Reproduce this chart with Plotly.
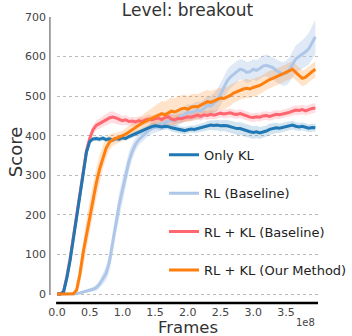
import plotly.graph_objects as go

# x positions in units of 1e8 frames
frames_e8 = [round(i * 0.05, 2) for i in range(80)]

only_kl = [0, 0, 5, 40, 85, 140, 195, 255, 310, 358,
           385, 392, 393, 391, 394, 390, 392, 389, 393, 391,
           395, 393, 398, 402, 406, 408, 412, 416, 420, 423,
           425, 424, 422, 424, 423, 420, 418, 416, 414, 413,
           415, 417, 416, 418, 420, 422, 425, 427, 426, 427,
           425, 426, 425, 423, 420, 418, 418, 415, 412, 410,
           408, 410, 407, 409, 412, 416, 418, 420, 419, 421,
           423, 425, 427, 424, 422, 424, 421, 419, 421, 420]
only_kl_sd = [0, 0, 2, 4, 5, 6, 6, 6, 6, 6, 5, 5, 6, 6, 6, 6, 6, 6, 6, 6,
              6, 6, 6, 7, 7, 7, 8, 8, 8, 8, 8, 8, 8, 8, 8, 9, 9, 9, 9, 9,
              9, 9, 10, 10, 10, 11, 12, 12, 13, 13, 14, 14, 15, 15, 15, 16, 16, 16, 16, 16,
              16, 16, 15, 15, 14, 14, 13, 13, 12, 12, 12, 11, 11, 11, 10, 10, 10, 10, 10, 10]

rl_base = [0, 0, 0, 0, 0, 0, 1, 3, 5, 7,
           10, 12, 16, 25, 38, 52, 80, 130, 180, 225,
           262, 300, 335, 360, 378, 390, 398, 405, 413, 418,
           422, 425, 428, 432, 436, 440, 438, 444, 448, 455,
           460, 458, 462, 465, 463, 470, 477, 475, 482, 490,
           505, 520, 538, 548, 556, 562, 568, 566, 560, 562,
           568, 565, 570, 576, 578, 574, 572, 565, 560, 556,
           558, 566, 580, 594, 600, 605, 612, 620, 635, 650]
rl_base_sd = [0, 0, 0, 0, 0, 0, 1, 2, 3, 4, 5, 6, 8, 10, 14, 18, 24, 28, 30, 30,
              30, 28, 25, 20, 16, 14, 13, 13, 13, 14, 14, 15, 15, 16, 16, 17, 17, 18, 18, 19,
              20, 20, 21, 22, 22, 23, 24, 25, 26, 27, 28, 28, 28, 28, 27, 27, 26, 26, 26, 26,
              26, 26, 27, 27, 28, 28, 28, 29, 29, 30, 31, 32, 33, 34, 35, 36, 38, 40, 42, 44]

rlkl_base = [0, 0, 7, 43, 89, 144, 199, 259, 314, 362,
             393, 415, 426, 430, 436, 440, 445, 447, 445, 441,
             438, 440, 436, 437, 435, 438, 436, 440, 442, 440,
             443, 445, 441, 446, 448, 442, 440, 444, 443, 446,
             448, 447, 450, 452, 449, 453, 451, 454, 452, 455,
             457, 455, 456, 458, 455, 454, 456, 452, 450, 447,
             446, 448, 447, 450, 451, 449, 452, 454, 453, 456,
             457, 459, 462, 465, 464, 466, 463, 466, 469, 470]
rlkl_base_sd = [0, 0, 3, 5, 6, 7, 8, 8, 8, 9, 10, 11, 12, 13, 14, 14, 15, 15, 14, 13,
                12, 12, 11, 11, 11, 11, 11, 11, 11, 11, 11, 11, 11, 11, 11, 11, 11, 11, 11, 11,
                11, 11, 11, 11, 11, 11, 11, 11, 11, 11, 11, 11, 11, 11, 11, 11, 11, 11, 11, 11,
                11, 11, 11, 11, 11, 11, 11, 11, 11, 11, 11, 11, 11, 12, 12, 12, 12, 12, 12, 12]

rlkl_ours = [0, 0, 0, 0, 0, 1, 10, 50, 105, 150,
             195, 240, 280, 315, 345, 368, 383, 390, 393, 396,
             400, 404, 410, 416, 422, 427, 432, 436, 440, 444,
             448, 452, 456, 453, 458, 462, 460, 465, 468, 470,
             467, 472, 474, 473, 478, 482, 486, 484, 488, 492,
             495, 494, 497, 502, 508, 512, 515, 518, 520, 518,
             522, 524, 527, 532, 538, 542, 545, 548, 552, 556,
             560, 563, 568, 560, 552, 545, 548, 556, 562, 568]
rlkl_ours_sd = [0, 0, 0, 0, 0, 2, 10, 25, 35, 40, 40, 40, 38, 35, 30, 25, 20, 16, 14, 13,
                13, 14, 15, 16, 17, 18, 20, 22, 24, 26, 28, 30, 32, 33, 34, 35, 35, 35, 34, 34,
                33, 33, 32, 32, 31, 30, 30, 29, 28, 28, 27, 27, 26, 26, 25, 25, 24, 24, 24, 23,
                23, 23, 22, 22, 22, 22, 21, 21, 21, 21, 21, 21, 20, 20, 20, 20, 20, 20, 20, 20]

series_names = ["Only KL", "RL (Baseline)", "RL + KL (Baseline)", "RL + KL (Our Method)"]
series_means = [only_kl, rl_base, rlkl_base, rlkl_ours]
series_sds = [only_kl_sd, rl_base_sd, rlkl_base_sd, rlkl_ours_sd]
series_colors = ["#1f77b4", "#aec7e8", "#ff6670", "#ff7f0e"]
band_colors = ["rgba(31,119,180,0.2)", "rgba(174,199,232,0.38)",
               "rgba(255,102,112,0.22)", "rgba(255,127,14,0.22)"]
draw_order = [1, 2, 0, 3]

y_ticks = [0, 100, 200, 300, 400, 500, 600, 700]
x_ticks = [0.0, 0.5, 1.0, 1.5, 2.0, 2.5, 3.0, 3.5]
x_tick_labels = ["0.0", "0.5", "1.0", "1.5", "2.0", "2.5", "3.0", "3.5"]

FONT = "DejaVu Sans"
fig = go.Figure()
for i in draw_order:
    m, sd = series_means[i], series_sds[i]
    upper = [a + b for a, b in zip(m, sd)]
    lower = [a - b for a, b in zip(m, sd)]
    fig.add_trace(go.Scatter(x=frames_e8 + frames_e8[::-1], y=upper + lower[::-1],
                             fill="toself", fillcolor=band_colors[i], line=dict(width=0),
                             mode="lines", showlegend=False, hoverinfo="skip",
                             legendgroup=f"g{i}"))
for i in draw_order:
    fig.add_trace(go.Scatter(x=frames_e8, y=series_means[i], mode="lines",
                             name=series_names[i], legendrank=i + 1,
                             line=dict(color=series_colors[i], width=3),
                             legendgroup=f"g{i}"))

fig.update_layout(
    width=352, height=336,
    margin=dict(l=57, r=0, t=17, b=38),
    paper_bgcolor="white", plot_bgcolor="white",
    font=dict(family=FONT, color="#333"),
    title=dict(text="Level: breakout", x=0.5, xref="paper", xanchor="center",
               y=1 - 10 / 336, yref="container", yanchor="middle",
               font=dict(size=17, color="#333", family=FONT)),
    showlegend=True,
    legend=dict(x=0.41, y=0.563, xanchor="left", yanchor="top",
                bgcolor="rgba(0,0,0,0)", font=dict(size=13, color="#222", family=FONT),
                tracegroupgap=18.5),
    xaxis=dict(range=[0, 3.99], showgrid=False, zeroline=False, showline=False,
               tickvals=x_ticks, ticktext=x_tick_labels, ticks="",
               ticklabelstandoff=6,
               tickfont=dict(size=11, color="#444", family=FONT)),
    yaxis=dict(range=[-10, 700], tickvals=y_ticks, showgrid=True, gridcolor="#bbbbbb",
               griddash="dot", gridwidth=1.2, zeroline=False, showline=False, ticks="",
               ticklabelstandoff=10,
               tickfont=dict(size=11, color="#444", family=FONT)),
    shapes=[
        dict(type="line", xref="paper", yref="paper", x0=-8 / 295, x1=-8 / 295,
             y0=3 / 281, y1=1, line=dict(color="#666", width=1.2)),
        dict(type="line", xref="paper", yref="paper", x0=-1 / 295, x1=1,
             y0=-5 / 281, y1=-5 / 281, line=dict(color="black", width=2.5)),
    ],
    annotations=[
        dict(text="Score", xref="paper", yref="paper", x=-46 / 295, y=0.52,
             textangle=-90, showarrow=False, xanchor="center", yanchor="middle",
             font=dict(size=18, color="#333", family=FONT)),
        dict(text="Frames", xref="paper", yref="paper", x=0.5, y=-29 / 281,
             showarrow=False, xanchor="center", yanchor="middle",
             font=dict(size=16.5, color="#333", family=FONT)),
        dict(text="1e8", xref="paper", yref="paper", x=281 / 295, y=-24 / 281,
             showarrow=False, xanchor="center", yanchor="middle",
             font=dict(size=10, color="#444", family=FONT)),
    ],
)

fig.write_html("out.html")
